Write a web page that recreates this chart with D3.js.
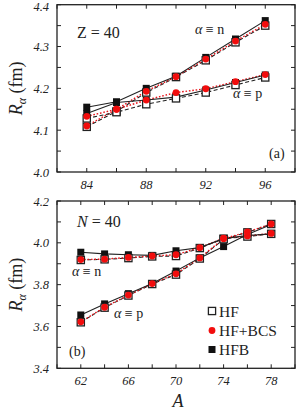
<!DOCTYPE html>
<html>
<head>
<meta charset="utf-8">
<script src="https://cdn.jsdelivr.net/npm/d3@7"></script>
<style>
  body { margin: 0; background: #fff; }
  text { font-family: "Liberation Serif", "DejaVu Serif", serif; fill: #222; }
  .tick-label { font-style: italic; font-size: 12.5px; }
</style>
</head>
<body>
<div id="chart"></div>
<script>
// --- data: panel (a) Z = 40 ---
const massA = [84, 86, 88, 90, 92, 94, 96];
const a_n_HF  = [4.108, 4.145, 4.190, 4.227, 4.267, 4.310, 4.350];
const a_n_BCS = [4.110, 4.150, 4.193, 4.228, 4.270, 4.313, 4.353];
const a_n_HFB = [4.155, 4.168, 4.200, 4.229, 4.274, 4.318, 4.362];
const a_p_HF  = [4.128, 4.143, 4.162, 4.176, 4.190, 4.208, 4.226];
const a_p_BCS = [4.133, 4.150, 4.172, 4.190, 4.199, 4.216, 4.233];
const a_p_HFB = [4.140, 4.166, 4.172, 4.179, 4.196, 4.214, 4.232];

// --- data: panel (b) N = 40 ---
const massB = [62, 64, 66, 68, 70, 72, 74, 76, 78];
const b_n_HF  = [3.918, 3.921, 3.927, 3.935, 3.937, 3.975, 4.020, 4.030, 4.043];
const b_n_BCS = [3.920, 3.922, 3.930, 3.937, 3.943, 3.977, 4.022, 4.033, 4.045];
const b_n_HFB = [3.955, 3.947, 3.943, 3.940, 3.962, 3.977, 4.020, 4.035, 4.043];
const b_p_HF  = [3.620, 3.690, 3.748, 3.803, 3.848, 3.925, 4.017, 4.050, 4.090];
const b_p_BCS = [3.622, 3.692, 3.750, 3.805, 3.852, 3.928, 4.020, 4.052, 4.090];
const b_p_HFB = [3.655, 3.708, 3.757, 3.805, 3.865, 3.928, 3.982, 4.040, 4.088];

const legendLabels = ["HF", "HF+BCS", "HFB"];

const W = 302, H = 411;
const svg = d3.select("#chart").append("svg").attr("width", W).attr("height", H);

const left = 57, right = 295;

const styles = {
  HF:  { stroke: "#222", width: 1.1, dash: "4,2.5" },
  BCS: { stroke: "#e8141a", width: 1.4, dash: "1.6,1.8" },
  HFB: { stroke: "#222", width: 1.1, dash: null }
};

function marker(g, kind, cx, cy) {
  if (kind === "HF") {
    g.append("rect").attr("x", cx - 3.6).attr("y", cy - 3.6).attr("width", 7.2).attr("height", 7.2)
      .attr("fill", "#fff").attr("stroke", "#222").attr("stroke-width", 1.3);
  } else if (kind === "HFB") {
    g.append("rect").attr("x", cx - 3.5).attr("y", cy - 3.5).attr("width", 7).attr("height", 7).attr("fill", "#111");
  } else {
    g.append("circle").attr("cx", cx).attr("cy", cy).attr("r", 3.4).attr("fill", "#f20d0d");
  }
}

function drawPanel(cfg) {
  const x = d3.scaleLinear().domain(cfg.xDomain).range([left, right]);
  const y = d3.scaleLinear().domain(cfg.yDomain).range([cfg.bottom, cfg.top]);
  const g = svg.append("g");

  // ticks (inside, all four sides)
  const tl = 4;
  const xt = d3.range(cfg.xDomain[0], cfg.xDomain[1] + 0.001, 2);
  xt.forEach(v => {
    g.append("line").attr("x1", x(v)).attr("x2", x(v)).attr("y1", cfg.bottom).attr("y2", cfg.bottom - tl).attr("stroke", "#222");
    g.append("line").attr("x1", x(v)).attr("x2", x(v)).attr("y1", cfg.top).attr("y2", cfg.top + tl).attr("stroke", "#222");
  });
  const yt = d3.range(0, Math.round((cfg.yDomain[1] - cfg.yDomain[0]) / cfg.yMinor) + 1)
    .map(i => cfg.yDomain[0] + i * cfg.yMinor);
  yt.forEach(v => {
    g.append("line").attr("x1", left).attr("x2", left + tl).attr("y1", y(v)).attr("y2", y(v)).attr("stroke", "#222");
    g.append("line").attr("x1", right).attr("x2", right - tl).attr("y1", y(v)).attr("y2", y(v)).attr("stroke", "#222");
  });

  // tick labels
  cfg.xLabels.forEach(v => {
    g.append("text").attr("class", "tick-label").attr("x", x(v)).attr("y", cfg.bottom + 17)
      .attr("text-anchor", "middle").text(v);
  });
  cfg.yLabels.forEach(v => {
    g.append("text").attr("class", "tick-label").attr("x", left - 8).attr("y", Math.max(y(v) + 4.5, 11))
      .attr("text-anchor", "end").text(v.toFixed(1));
  });

  // frame
  g.append("rect").attr("x", left).attr("y", cfg.top).attr("width", right - left)
    .attr("height", cfg.bottom - cfg.top).attr("fill", "none").attr("stroke", "#222").attr("stroke-width", 1.3);

  const line = d3.line().x(d => x(d[0])).y(d => y(d[1]));

  cfg.series.forEach(s => {
    const pts = cfg.mass.map((m, i) => [m, s.values[i]]);
    const st = styles[s.kind];
    g.append("path").datum(pts).attr("d", line).attr("fill", "none")
      .attr("stroke", st.stroke).attr("stroke-width", st.width).attr("stroke-dasharray", st.dash);
    s.pts = pts;
  });

  // markers: HFB first, then HF, then BCS on top
  ["HFB", "HF", "BCS"].forEach(kind => {
    cfg.series.filter(s => s.kind === kind).forEach(s => {
      s.pts.forEach(p => marker(g, kind, x(p[0]), y(p[1])));
    });
  });

  // y axis title
  const yc = (cfg.top + cfg.bottom) / 2;
  const t = g.append("text").attr("transform", `translate(22, ${yc}) rotate(-90)`)
    .attr("text-anchor", "middle").style("font-size", "18px");
  t.append("tspan").style("font-style", "italic").text("R");
  t.append("tspan").style("font-style", "italic").style("font-size", "12px").attr("dy", 4).text("α");
  t.append("tspan").attr("dy", -4).text(" (fm)");

  cfg.annotations.forEach(a => {
    const tx = g.append("text").attr("x", a.x).attr("y", a.y).style("font-size", a.size + "px");
    a.parts.forEach(p => tx.append("tspan").style("font-style", p.italic ? "italic" : "normal").text(p.t));
  });
  return { x, y, g };
}

drawPanel({
  xDomain: [82, 98], yDomain: [4.0, 4.4], yMinor: 0.05,
  top: 4.7, bottom: 172,
  xLabels: [84, 88, 92, 96], yLabels: [4.0, 4.1, 4.2, 4.3, 4.4],
  mass: massA,
  series: [
    { kind: "HF", values: a_n_HF }, { kind: "BCS", values: a_n_BCS }, { kind: "HFB", values: a_n_HFB },
    { kind: "HF", values: a_p_HF }, { kind: "BCS", values: a_p_BCS }, { kind: "HFB", values: a_p_HFB }
  ],
  annotations: [
    { x: 77, y: 38, size: 16, parts: [{ t: "Z = 40", italic: false }] },
    { x: 195, y: 34, size: 14, parts: [{ t: "α", italic: true }, { t: " ≡ n" }] },
    { x: 233, y: 98, size: 14, parts: [{ t: "α", italic: true }, { t: " ≡ p" }] },
    { x: 269, y: 158, size: 14, parts: [{ t: "(a)" }] }
  ]
});

drawPanel({
  xDomain: [60, 80], yDomain: [3.4, 4.2], yMinor: 0.1,
  top: 201, bottom: 368.3,
  xLabels: [62, 66, 70, 74, 78], yLabels: [3.4, 3.6, 3.8, 4.0, 4.2],
  mass: massB,
  series: [
    { kind: "HF", values: b_n_HF }, { kind: "BCS", values: b_n_BCS }, { kind: "HFB", values: b_n_HFB },
    { kind: "HF", values: b_p_HF }, { kind: "BCS", values: b_p_BCS }, { kind: "HFB", values: b_p_HFB }
  ],
  annotations: [
    { x: 77, y: 227, size: 16, parts: [{ t: "N", italic: true }, { t: " = 40" }] },
    { x: 72, y: 276, size: 14, parts: [{ t: "α", italic: true }, { t: " ≡ n" }] },
    { x: 114, y: 318, size: 14, parts: [{ t: "α", italic: true }, { t: " ≡ p" }] },
    { x: 69, y: 356, size: 14, parts: [{ t: "(b)" }] }
  ]
});

// legend
const legKinds = ["HF", "BCS", "HFB"];
const legY = [311, 330.5, 349.5];
legendLabels.forEach((lab, i) => {
  marker(svg, legKinds[i], 212, legY[i]);
  svg.append("text").attr("x", 219).attr("y", legY[i] + 5.5).style("font-size", "15.5px").text(lab);
});

// x axis title
svg.append("text").attr("x", 178).attr("y", 407).attr("text-anchor", "middle")
  .style("font-size", "18px").style("font-style", "italic").text("A");
</script>
</body>
</html>
